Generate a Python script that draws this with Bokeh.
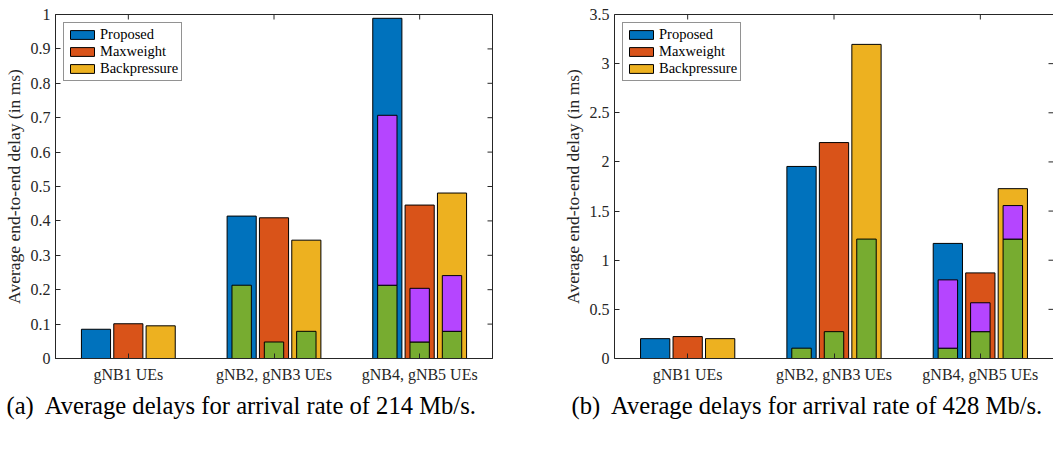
from bokeh.plotting import figure
from bokeh.models import (ColumnDataSource, FixedTicker, LinearAxis, Title, Legend)
from bokeh.layouts import row
from bokeh.embed import file_html
from bokeh.resources import INLINE
import math

# ---------------- data ----------------
categories = ["gNB1 UEs", "gNB2, gNB3 UEs", "gNB4, gNB5 UEs"]
schemes = ["Proposed", "Maxweight", "Backpressure"]

# (a) arrival rate 214 Mb/s  -- total average delay (ms)
a_proposed = [0.085, 0.414, 0.989]
a_maxweight = [0.101, 0.409, 0.446]
a_backpressure = [0.095, 0.344, 0.481]
# inner green component (lower part)
a_green_proposed = [None, 0.213, 0.213]
a_green_maxweight = [None, 0.048, 0.048]
a_green_backpressure = [None, 0.079, 0.079]
# inner purple component (top of stacked inner bar)
a_purple_proposed = [None, None, 0.707]
a_purple_maxweight = [None, None, 0.204]
a_purple_backpressure = [None, None, 0.241]

# (b) arrival rate 428 Mb/s
b_proposed = [0.202, 1.954, 1.171]
b_maxweight = [0.223, 2.197, 0.871]
b_backpressure = [0.202, 3.196, 1.728]
b_green_proposed = [None, 0.105, 0.105]
b_green_maxweight = [None, 0.273, 0.273]
b_green_backpressure = [None, 1.215, 1.215]
b_purple_proposed = [None, None, 0.800]
b_purple_maxweight = [None, None, 0.567]
b_purple_backpressure = [None, None, 1.556]

a_yticks = [0, 0.1, 0.2, 0.3, 0.4, 0.5, 0.6, 0.7, 0.8, 0.9, 1.0]
b_yticks = [0, 0.5, 1.0, 1.5, 2.0, 2.5, 3.0, 3.5]

# ---------------- style ----------------
COLORS = ["#0072BD", "#D95319", "#EDB120"]
GREEN = "#77AC30"
PURPLE = "#B545FF"
AX = "#262626"
FONT = "Times New Roman"
OFFSETS = [-0.222, 0.0, 0.222]
OUTER_W = 0.2
INNER_W = 0.133
XLO, XHI = 0.5, 3.5


def fmt(v):
    return ("%.2f" % v).rstrip("0").rstrip(".")


def make_panel(totals, greens, purples, yticks, ymax, caption, width,
               bl, br, cap_offset, right_edge=False):
    p = figure(width=width, height=449, x_range=(XLO, XHI), y_range=(0, ymax),
               min_border_left=bl, min_border_right=br, min_border_top=14,
               min_border_bottom=91, output_backend="svg", toolbar_location=None)
    p.xgrid.visible = False
    p.ygrid.visible = False
    p.outline_line_color = None if right_edge else AX
    p.outline_line_width = 1
    p.background_fill_color = "white"
    p.border_fill_color = "white"

    n = len(categories)
    xs = list(range(1, n + 1))
    renderers = []
    for k, name in enumerate(schemes):
        x = [xi + OFFSETS[k] for xi in xs]
        src = ColumnDataSource(dict(x=x, top=totals[k]))
        r = p.vbar(x="x", top="top", bottom=0, width=OUTER_W, source=src,
                   fill_color=COLORS[k], line_color="black", line_width=1)
        renderers.append((name, [r]))
        gx = [x[i] for i in range(n) if greens[k][i] is not None]
        gt = [greens[k][i] for i in range(n) if greens[k][i] is not None]
        p.vbar(x=gx, top=gt, bottom=0, width=INNER_W,
               fill_color=GREEN, line_color="black", line_width=1)
        px = [x[i] for i in range(n) if purples[k][i] is not None]
        pt = [purples[k][i] for i in range(n) if purples[k][i] is not None]
        pb = [greens[k][i] for i in range(n) if purples[k][i] is not None]
        p.vbar(x=px, top=pt, bottom=pb, width=INNER_W,
               fill_color=PURPLE, line_color="black", line_width=1)

    # inward tick marks on the right and top edges (box style)
    p.scatter(x=[XHI] * len(yticks), y=yticks, marker="dash", size=10,
              line_color=AX, line_width=1)
    p.scatter(x=xs, y=[ymax] * n, marker="dash", size=10, angle=math.pi / 2,
              line_color=AX, line_width=1)

    # axes
    xa = p.xaxis[0]
    xa.ticker = FixedTicker(ticks=xs)
    xa.major_label_overrides = {xi: c for xi, c in zip(xs, categories)}
    ya = p.yaxis[0]
    ya.ticker = FixedTicker(ticks=yticks)
    ya.major_label_overrides = {t: fmt(t) for t in yticks}
    ya.axis_label = "Average end-to-end delay (in ms)"
    for ax in (xa, ya):
        ax.major_tick_in = 5
        ax.major_tick_out = 0
        ax.minor_tick_line_color = None
        ax.axis_line_color = AX
        ax.major_tick_line_color = AX
        ax.major_label_text_font = FONT
        ax.major_label_text_font_size = "16px"
        ax.major_label_text_color = AX
        ax.axis_label_text_font = FONT
        ax.axis_label_text_font_size = "17.5px"
        ax.axis_label_text_font_style = "normal"
        ax.axis_label_text_color = AX
    xa.major_label_standoff = 7
    ya.major_label_standoff = 5
    ya.axis_label_standoff = 4

    if right_edge:
        ta = LinearAxis(ticker=FixedTicker(ticks=[]), major_tick_in=0,
                        major_tick_out=0, minor_tick_line_color=None,
                        axis_line_color=AX)
        p.add_layout(ta, "above")

    leg = Legend(items=renderers, location="top_left", margin=8,
                 label_text_font=FONT, label_text_font_size="14.5px",
                 label_text_color="black", glyph_width=30, glyph_height=11,
                 label_height=17, spacing=0, padding=3, label_standoff=3,
                 border_line_color=AX, border_line_width=1,
                 background_fill_alpha=1.0)
    p.add_layout(leg)

    t = Title(text=caption, align="left", offset=cap_offset, standoff=9,
              text_font=FONT, text_font_size="24.6px", text_font_style="normal",
              text_color="black")
    p.add_layout(t, "below")
    return p


pa = make_panel([a_proposed, a_maxweight, a_backpressure],
                [a_green_proposed, a_green_maxweight, a_green_backpressure],
                [a_purple_proposed, a_purple_maxweight, a_purple_backpressure],
                a_yticks, 1.0,
                "(a)\u00a0 Average delays for arrival rate of 214 Mb/s.",
                526, 54, 34, -49)
pb = make_panel([b_proposed, b_maxweight, b_backpressure],
                [b_green_proposed, b_green_maxweight, b_green_backpressure],
                [b_purple_proposed, b_purple_maxweight, b_purple_backpressure],
                b_yticks, 3.5,
                "(b)\u00a0 Average delays for arrival rate of 428 Mb/s.",
                527, 88, 0, -43, right_edge=True)

layout = row(pa, pb)
open("out.html", "w").write(file_html(layout, INLINE))
